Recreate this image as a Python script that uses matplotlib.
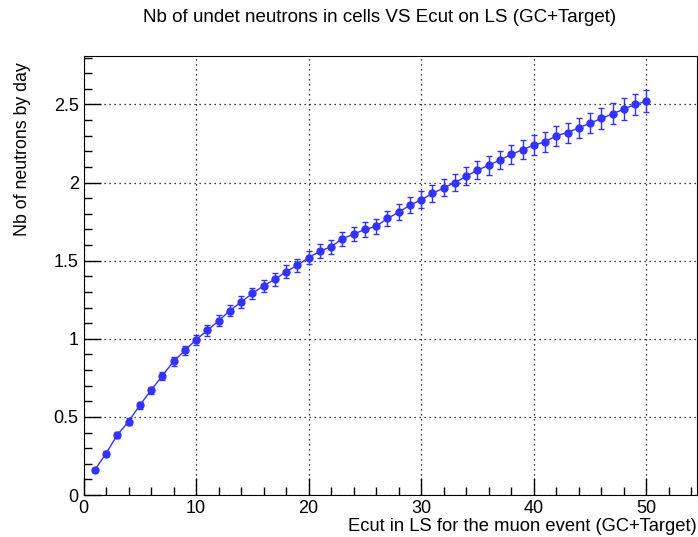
import matplotlib
matplotlib.use("Agg")
import matplotlib.pyplot as plt
from matplotlib.ticker import MultipleLocator

plt.rcParams['font.family'] = ['Liberation Sans', 'DejaVu Sans']

# data
ecut = list(range(1, 51))
neutrons = [0.16, 0.265, 0.385, 0.47, 0.575, 0.67, 0.763, 0.855, 0.925, 0.994,
            1.053, 1.115, 1.18, 1.235, 1.29, 1.34, 1.38, 1.43, 1.47, 1.52,
            1.56, 1.59, 1.64, 1.67, 1.70, 1.72, 1.77, 1.81, 1.855, 1.89,
            1.93, 1.966, 2.00, 2.04, 2.08, 2.11, 2.145, 2.18, 2.21, 2.24,
            2.26, 2.30, 2.32, 2.35, 2.38, 2.41, 2.44, 2.47, 2.50, 2.52]
errors = [0.010, 0.014, 0.018, 0.020, 0.022, 0.024, 0.026, 0.028, 0.030, 0.032,
          0.034, 0.035, 0.036, 0.037, 0.038, 0.039, 0.040, 0.041, 0.042, 0.043,
          0.044, 0.045, 0.046, 0.047, 0.048, 0.049, 0.050, 0.051, 0.052, 0.053,
          0.054, 0.055, 0.056, 0.057, 0.058, 0.059, 0.060, 0.060, 0.061, 0.062,
          0.063, 0.063, 0.064, 0.065, 0.066, 0.066, 0.067, 0.068, 0.069, 0.070]

fig = plt.figure(figsize=(6.98, 5.37), dpi=100)
ax = fig.add_axes([83.5 / 698, 42 / 537, (697 - 83.5) / 698, (495 - 56) / 537])

blue = '#3333ff'
ax.errorbar(ecut, neutrons, yerr=errors, fmt='o-', color=blue, ms=5,
            lw=1, elinewidth=1, capsize=2, capthick=1)

ax.set_xlim(0, 54.5)
ax.set_ylim(0, 2.81)
ax.xaxis.set_major_locator(MultipleLocator(10))
ax.xaxis.set_minor_locator(MultipleLocator(2))
ax.yaxis.set_minor_locator(MultipleLocator(0.1))
ax.set_yticks([0, 0.5, 1, 1.5, 2, 2.5])
ax.set_yticklabels(['0', '0.5', '1', '1.5', '2', '2.5'])

ax.tick_params(which='both', direction='in', top=False, right=False,
               labelsize=13, width=1)
ax.tick_params(which='major', length=12)
ax.tick_params(which='minor', length=6)
ax.grid(True, which='major', linestyle=(0, (1, 3)), color='black', lw=0.9)

fig.text(380 / 698, 1 - 18 / 537,
         "Nb of undet neutrons in cells VS Ecut on LS (GC+Target)",
         fontsize=13.5, ha='center', va='center')
ax.set_xlabel("Ecut in LS for the muon event (GC+Target)", fontsize=13.2,
              loc='right', labelpad=1)
ax.set_ylabel("Nb of neutrons by day", fontsize=12.8, loc='top')
ax.yaxis.set_label_coords(-0.085, 0.985)

fig.savefig("out.png", dpi=100)
